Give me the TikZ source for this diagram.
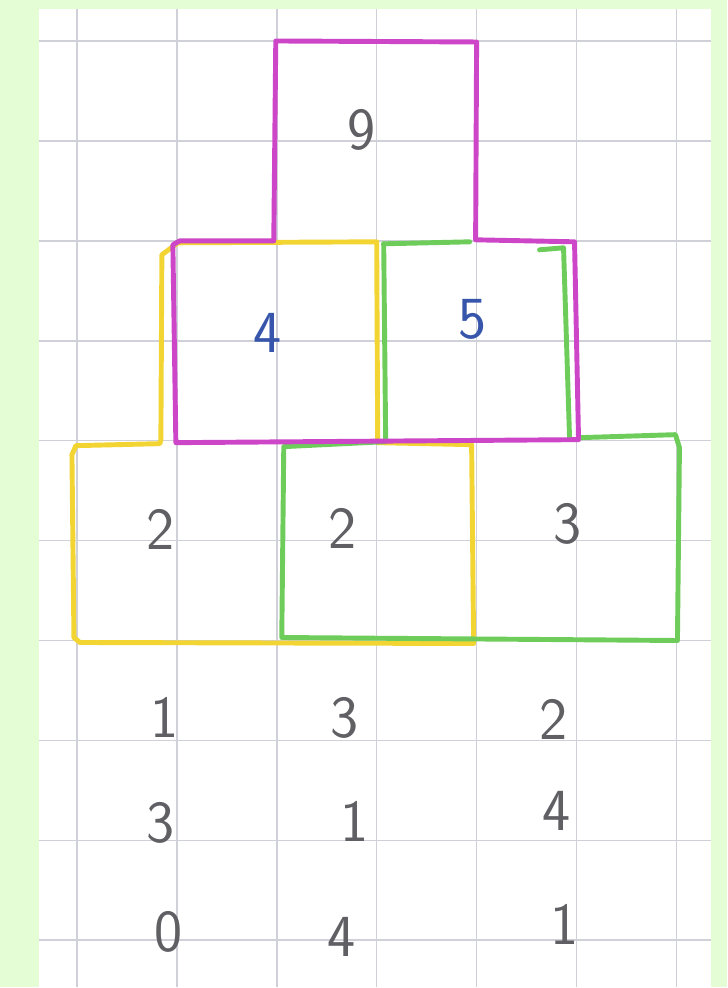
\documentclass[tikz,border=0pt]{standalone}
\usepackage{tikz}
\usetikzlibrary{calc}
\definecolor{PaleGreen}{RGB}{228,253,212}
\definecolor{GridGray}{RGB}{208,208,216}
\definecolor{PenMagenta}{RGB}{205,70,200}
\definecolor{PenYellow}{RGB}{242,212,50}
\definecolor{PenGreen}{RGB}{110,205,90}
\definecolor{InkGray}{RGB}{95,95,100}
\definecolor{InkBlue}{RGB}{55,85,170}

\begin{document}
\begin{tikzpicture}[x=1cm, y=-1cm,
		gridline/.style={GridGray, line width=0.45pt},
		pen/.style={line width=1.4pt, line join=round, line cap=round},
		digit/.style={InkGray, font=\sffamily\fontsize{17}{17}\selectfont},
		bluedigit/.style={digit, InkBlue}]
		\fill[PaleGreen] (0,0) rectangle (7.28,9.88);
		\fill[white] (0.39,0.09) rectangle (7.12,9.88);
		\foreach \i in {0,...,6}
			\draw[gridline] (0.77+\i,0.09) -- (0.77+\i,9.88);
		\foreach \j in {0,...,9}
			\draw[gridline] (0.39,0.41+\j) -- (7.12,0.41+\j);
		\draw[pen, PenYellow] (3.77,2.42) -- (1.78,2.43) -- (1.62,2.55) -- (1.61,4.40) -- (1.60,4.44)
			-- (0.76,4.46) -- (0.72,4.55) -- (0.74,6.38) -- (0.80,6.43) -- (4.74,6.44)
			-- (4.72,4.45) -- (3.78,4.43) -- cycle;
		\draw[pen, PenGreen] (3.84,2.44) -- (4.70,2.42);
		\draw[pen, PenGreen] (5.40,2.50) -- (5.64,2.48) -- (5.70,4.38);
		\draw[pen, PenGreen] (3.84,2.44) -- (3.86,4.42) -- (2.84,4.47) -- (2.82,6.38)
			-- (6.78,6.41) -- (6.80,4.48) -- (6.76,4.35) -- (5.80,4.38);
		\draw[pen, PenMagenta] (2.76,0.41) -- (4.77,0.42) -- (4.76,2.40) -- (5.75,2.42)
			-- (5.79,4.40) -- (1.76,4.43) -- (1.73,2.45) -- (1.80,2.41) -- (2.74,2.41) -- cycle;
		\node[digit] (top) at (3.62,1.30) {9};
		\node[bluedigit] (midL) at (2.68,3.33) {4};
		\node[bluedigit] (midR) at (4.73,3.20) {5};
		\node[digit] (baseL) at (1.61,5.30) {2};
		\node[digit] (baseM) at (3.43,5.29) {2};
		\node[digit] (baseR) at (5.68,5.24) {3};
		\node[digit] (rowAa) at (1.65,7.18) {1};
		\node[digit] (rowAb) at (3.45,7.18) {3};
		\node[digit] (rowAc) at (5.54,7.20) {2};
		\node[digit] (rowBa) at (1.61,8.24) {3};
		\node[digit] (rowBb) at (3.55,8.22) {1};
		\node[digit] (rowBc) at (5.57,8.12) {4};
		\node[digit] (rowCa) at (1.69,9.33) {0};
		\node[digit] (rowCb) at (3.42,9.38) {4};
		\node[digit] (rowCc) at (5.65,9.25) {1};
	\end{tikzpicture}
\end{document}
